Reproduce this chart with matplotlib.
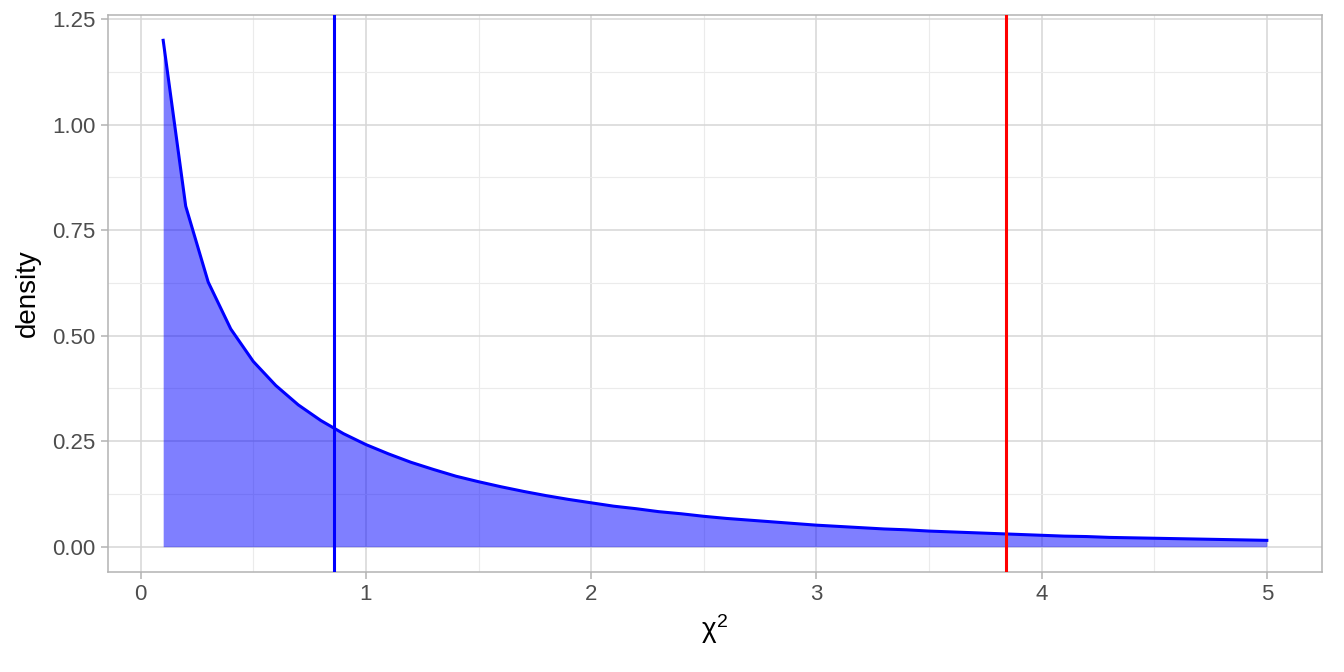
import numpy as np
import matplotlib
matplotlib.use("Agg")
import matplotlib.pyplot as plt

plt.rcParams['font.family'] = ['Liberation Sans', 'DejaVu Sans']
plt.rcParams['mathtext.fontset'] = 'custom'
plt.rcParams['mathtext.rm'] = 'Liberation Sans'
plt.rcParams['mathtext.it'] = 'Liberation Sans'

# chi-square values and their density
chisq = [0.1, 0.2, 0.3, 0.4, 0.5, 0.6, 0.7, 0.8, 0.9, 1.0,
         1.1, 1.2, 1.3, 1.4, 1.5, 1.6, 1.7, 1.8, 1.9, 2.0,
         2.1, 2.2, 2.3, 2.4, 2.5, 2.6, 2.7, 2.8, 2.9, 3.0,
         3.1, 3.2, 3.3, 3.4, 3.5, 3.6, 3.7, 3.8, 3.9, 4.0,
         4.1, 4.2, 4.3, 4.4, 4.5, 4.6, 4.7, 4.8, 4.9, 5.0]
density = [1.200, 0.807, 0.627, 0.516, 0.439, 0.382, 0.336, 0.299, 0.268, 0.242,
           0.220, 0.200, 0.183, 0.167, 0.154, 0.142, 0.131, 0.121, 0.112, 0.104,
           0.096, 0.090, 0.083, 0.078, 0.072, 0.067, 0.063, 0.059, 0.055, 0.051,
           0.048, 0.045, 0.042, 0.040, 0.037, 0.035, 0.033, 0.031, 0.029, 0.027,
           0.025, 0.024, 0.022, 0.021, 0.020, 0.019, 0.018, 0.017, 0.016, 0.015]
observed = 0.858   # blue line
critical = 3.84    # red line

x_ticks = [0, 1, 2, 3, 4, 5]
y_ticks = [0.00, 0.25, 0.50, 0.75, 1.00, 1.25]
y_labels = ['0.00', '0.25', '0.50', '0.75', '1.00', '1.25']

fig = plt.figure(figsize=(13.44, 6.72), dpi=100)
ax = fig.add_axes([108/1344, 1 - 572/672, (1322-108)/1344, (572-15)/672])

x = np.array(chisq)
y = np.array(density)
ax.fill_between(x, 0, y, color='blue', alpha=0.5, linewidth=0, zorder=2)
ax.plot(x, y, color='blue', linewidth=2.2, zorder=3)
ax.axvline(observed, color='blue', linewidth=2.2, zorder=4)
ax.axvline(critical, color='red', linewidth=2.2, zorder=4)

xr = x.max() - x.min()
ax.set_xlim(x.min() - 0.05*xr, x.max() + 0.05*xr)
ax.set_ylim(-0.06, 1.26)

ax.set_xticks(x_ticks)
ax.set_xticks([0.5, 1.5, 2.5, 3.5, 4.5], minor=True)
ax.set_yticks(y_ticks)
ax.set_yticklabels(y_labels)
ax.set_yticks([0.125, 0.375, 0.625, 0.875, 1.125], minor=True)

ax.grid(which='major', color='#d6d6d6', linewidth=1.1, zorder=0)
ax.grid(which='minor', color='#ebebeb', linewidth=0.8, zorder=0)
ax.set_axisbelow(True)
for s in ax.spines.values():
    s.set_color('#b3b3b3')
    s.set_linewidth(1.1)
ax.tick_params(which='major', length=5, width=1.1, color='#b3b3b3',
               labelsize=16, labelcolor='#4d4d4d', pad=4)
ax.tick_params(which='minor', length=0)

ax.set_xlabel(r'$\chi^2$', fontsize=20, labelpad=5)
ax.set_ylabel('density', fontsize=20, labelpad=8)

fig.savefig('out.png', dpi=100)
